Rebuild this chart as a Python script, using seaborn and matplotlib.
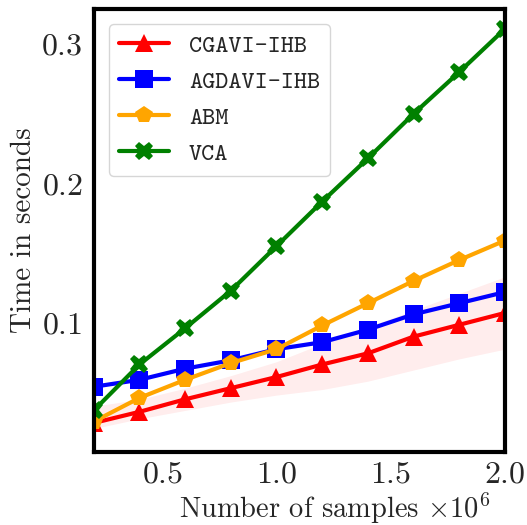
import numpy as np
import pandas as pd
import matplotlib

matplotlib.use("Agg")
import matplotlib.pyplot as plt
import seaborn as sns

# samples (x 10^6)
samples = [0.2, 0.4, 0.6, 0.8, 1.0, 1.2, 1.4, 1.6, 1.8, 2.0]

cgavi = [0.028, 0.036, 0.045, 0.053, 0.061, 0.070, 0.078, 0.090, 0.0985, 0.107]
cgavi_lo = [0.024, 0.031, 0.037, 0.043, 0.048, 0.052, 0.058, 0.066, 0.074, 0.081]
cgavi_hi = [0.040, 0.045, 0.053, 0.062, 0.072, 0.085, 0.097, 0.109, 0.121, 0.133]
agdavi = [0.054, 0.059, 0.067, 0.073, 0.081, 0.086, 0.095, 0.106, 0.114, 0.122]
abm = [0.029, 0.046, 0.059, 0.071, 0.081, 0.098, 0.114, 0.130, 0.145, 0.159]
vca = [0.037, 0.070, 0.096, 0.123, 0.155, 0.187, 0.218, 0.250, 0.280, 0.311]

names = ["CGAVI-IHB", "AGDAVI-IHB", "ABM", "VCA"]
series = [cgavi, agdavi, abm, vca]
colors = ["red", "blue", "orange", "green"]
markers = ["^", "s", "p", "X"]

sns.set_style("white")
plt.rcParams["font.family"] = "cmr10"
plt.rcParams["mathtext.fontset"] = "cm"
plt.rcParams["axes.formatter.use_mathtext"] = True

fig, ax = plt.subplots(figsize=(5.27, 5.25), dpi=100)

ax.fill_between(samples, cgavi_lo, cgavi_hi, color="red", alpha=0.07, linewidth=0)

for name, vals, c, m in zip(names, series, colors, markers):
    df = pd.DataFrame({"x": samples, "y": vals})
    sns.lineplot(data=df, x="x", y="y", ax=ax, color=c, marker=m,
                 markersize=13, markeredgewidth=0, linewidth=3, label=name)

ax.set_xlim(0.2, 2.0)
ax.set_ylim(0.0075, 0.325)
ax.set_xticks([0.5, 1.0, 1.5, 2.0])
ax.set_yticks([0.1, 0.2, 0.3])
ax.set_xlabel(r"Number of samples $\times 10^6$", fontsize=20.5)
ax.xaxis.set_label_coords(0.585, -0.09)
ax.set_ylabel("Time in seconds", fontsize=21, labelpad=3)
ax.tick_params(direction="in", length=7, width=3, labelsize=23)
ax.tick_params(axis="x", pad=7)
ax.tick_params(axis="y", pad=8)
for s in ax.spines.values():
    s.set_linewidth(3)
    s.set_color("black")

leg = ax.legend(loc="upper left", prop={"family": "cmtt10", "size": 18},
                handlelength=2.0, borderaxespad=0.6)

fig.subplots_adjust(left=0.178, right=0.958, top=0.982, bottom=0.14)
fig.savefig("out.png", dpi=100)
